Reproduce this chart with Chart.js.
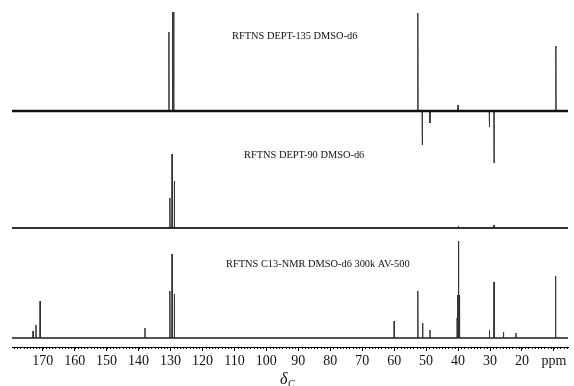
<!DOCTYPE html>
<html lang="en">
<head>
    <meta charset="UTF-8">
    <title>RFTNS 13C / DEPT spectra</title>
    <script src="https://cdn.jsdelivr.net/npm/chart.js"></script>
    <style>
        body { margin: 0; background: #fff; }
    </style>
</head>
<body>
    <canvas id="nmrChart" width="574" height="386"></canvas>

    <script>
        // chemical shift axis (ppm), drawn high -> low
        const xMin = 5.6;
        const xMax = 179.6;
        const tickValues = [170, 160, 150, 140, 130, 120, 110, 100, 90, 80, 70, 60, 50, 40, 30, 20, 10];

        // DEPT-135 (CH/CH3 up, CH2 down)
        const dept135Shift = [130.5, 129.4, 129.0, 52.6, 51.2, 48.8, 40.0, 30.2, 28.75, 9.4];
        const dept135Height = [79, 99, 99, 98, -34, -12, 6, -16, -52, 65];

        // DEPT-90 (CH only)
        const dept90Shift = [130.2, 129.5, 128.8, 39.9, 28.75];
        const dept90Height = [30, 74, 47, 2, 3];

        // 13C full spectrum
        const c13Shift = [173.0, 172.1, 170.8, 138.0, 130.2, 129.5, 128.8, 60.0, 52.6, 51.1, 48.8,
                          40.3, 40.1, 39.9, 39.7, 39.5, 30.2, 28.75, 25.8, 21.9, 9.5];
        const c13Height = [7, 13, 37, 10, 47, 84, 44, 17, 47, 15, 8,
                           20, 43, 97, 43, 20, 8, 56, 6, 5, 62];

        const spectrumTitles = ['RFTNS DEPT-135 DMSO-d6', 'RFTNS DEPT-90 DMSO-d6', 'RFTNS C13-NMR DMSO-d6 300k AV-500'];

        // layout: baseline of each trace (y units = px above the axis line)
        const baselines = [236, 119, 9];
        const titlePos = [[232, 36], [244, 155], [226, 264]];
        const noiseWidth = [2.4, 1.5, 1];

        function peakLine(shifts, heights, base) {
            const idx = shifts.map((s, i) => i).sort((a, b) => shifts[b] - shifts[a]);
            const pts = [{ x: xMax, y: base }];
            const w = 0.07;
            idx.forEach(i => {
                pts.push({ x: shifts[i] + w, y: base });
                pts.push({ x: shifts[i], y: base + heights[i] });
                pts.push({ x: shifts[i] - w, y: base });
            });
            pts.push({ x: xMin, y: base });
            return pts;
        }

        const traces = [
            [dept135Shift, dept135Height],
            [dept90Shift, dept90Height],
            [c13Shift, c13Height]
        ];

        const datasets = [];
        traces.forEach((t, k) => {
            datasets.push({
                data: [{ x: xMax, y: baselines[k] }, { x: xMin, y: baselines[k] }],
                borderColor: '#111',
                borderWidth: noiseWidth[k],
                pointRadius: 0
            });
            datasets.push({
                data: peakLine(t[0], t[1], baselines[k]),
                borderColor: '#333',
                borderWidth: 1,
                pointRadius: 0,
                tension: 0
            });
        });

        const overlay = {
            id: 'overlay',
            afterDraw(chart) {
                const ctx = chart.ctx;
                const xs = chart.scales.x;
                const axisY = xs.top;
                ctx.save();
                // minor ticks every 1 ppm
                ctx.strokeStyle = '#000';
                ctx.lineWidth = 1;
                ctx.beginPath();
                for (let v = Math.ceil(xMin); v <= xMax; v++) {
                    const px = Math.round(xs.getPixelForValue(v)) + 0.5;
                    ctx.moveTo(px, axisY);
                    ctx.lineTo(px, axisY + 2);
                }
                ctx.stroke();

                ctx.fillStyle = '#111';
                ctx.font = '10.4px "Liberation Serif"';
                ctx.textAlign = 'left';
                ctx.textBaseline = 'middle';
                spectrumTitles.forEach((s, i) => ctx.fillText(s, titlePos[i][0], titlePos[i][1]));

                // axis title: delta with subscript C
                ctx.textBaseline = 'alphabetic';
                ctx.font = 'italic 16px "Liberation Serif"';
                ctx.fillText('δ', 280, 384);
                ctx.font = 'italic 10px "Liberation Serif"';
                ctx.fillText('C', 288, 387);
                ctx.restore();
            }
        };

        const ctx = document.getElementById('nmrChart').getContext('2d');
        new Chart(ctx, {
            type: 'line',
            data: { datasets: datasets },
            options: {
                responsive: false,
                animation: false,
                layout: { padding: { left: 12, right: 6, top: 0, bottom: 0 } },
                plugins: { legend: { display: false }, tooltip: { enabled: false } },
                scales: {
                    x: {
                        type: 'linear',
                        min: xMin,
                        max: xMax,
                        reverse: true,
                        afterBuildTicks: (scale) => { scale.ticks = tickValues.map(v => ({ value: v })); },
                        afterFit: (scale) => { scale.height = 39; },
                        grid: { drawOnChartArea: false, drawTicks: true, tickLength: 4, color: '#000' },
                        border: { display: true, color: '#000', width: 1 },
                        ticks: {
                            autoSkip: false,
                            maxRotation: 0,
                            padding: 2,
                            color: '#111',
                            font: { family: '"Liberation Serif"', size: 14 },
                            callback: (v) => v === 10 ? 'ppm' : v
                        }
                    },
                    y: {
                        display: false,
                        min: 0,
                        max: 347
                    }
                }
            },
            plugins: [overlay]
        });
    </script>
</body>
</html>
